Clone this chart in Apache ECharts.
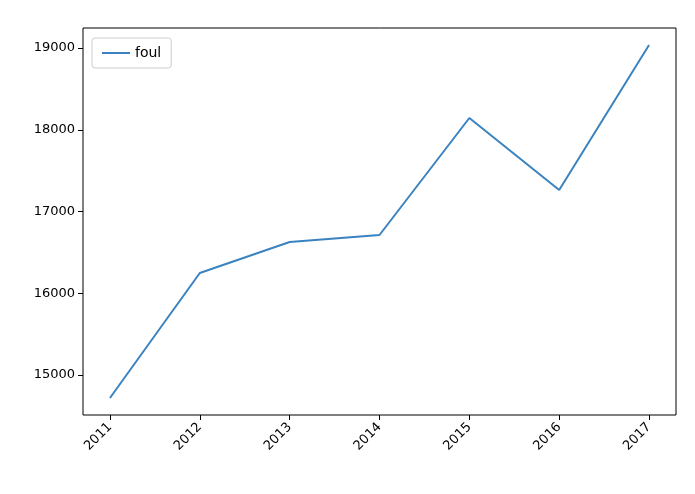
<!DOCTYPE html>
<html><head><meta charset="utf-8">
<script src="https://cdn.jsdelivr.net/npm/echarts@6/dist/echarts.min.js"></script>
<style>html,body{margin:0;padding:0;background:#fff}#c{width:695px;height:494px}</style>
</head><body><div id="c"></div>
<script>
const years = [2011, 2012, 2013, 2014, 2015, 2016, 2017];
const foul = [14719, 16248, 16627, 16713, 18144, 17263, 19037];
const yTicks = [15000, 16000, 17000, 18000, 19000];
const chart = echarts.init(document.getElementById('c'));
chart.setOption({
  animation: false,
  grid: {left: 83, right: 19, top: 28, bottom: 79, show: true, borderColor: '#000', borderWidth: 1},
  legend: {
    left: 92, top: 38, orient: 'vertical', data: ['foul'],
    borderColor: '#ccc', borderWidth: 1, borderRadius: 3, padding: [8, 10],
    itemWidth: 28, itemHeight: 2, icon: 'rect',
    textStyle: {fontFamily: 'DejaVu Sans', fontSize: 14, color: '#000'}
  },
  xAxis: {
    type: 'value', min: 2010.7, max: 2017.3,
    splitLine: {show: false},
    axisLine: {show: false},
    axisTick: {show: true, customValues: years, length: 5, lineStyle: {color: '#000'}},
    axisLabel: {customValues: years, rotate: 45, formatter: v => String(v), fontFamily: 'DejaVu Sans', fontSize: 13, color: '#000', margin: 10}
  },
  yAxis: {
    type: 'value', min: 14511, max: 19245,
    splitLine: {show: false},
    axisLine: {show: false},
    axisTick: {show: true, customValues: yTicks, length: 5, lineStyle: {color: '#000'}},
    axisLabel: {customValues: yTicks, formatter: v => String(v), fontFamily: 'DejaVu Sans', fontSize: 13, color: '#000', margin: 8}
  },
  series: [{
    name: 'foul', type: 'line', data: years.map((y, i) => [y, foul[i]]),
    showSymbol: false, lineStyle: {color: '#3a83c0', width: 2}, itemStyle: {color: '#3a83c0'}
  }]
});
</script></body></html>
